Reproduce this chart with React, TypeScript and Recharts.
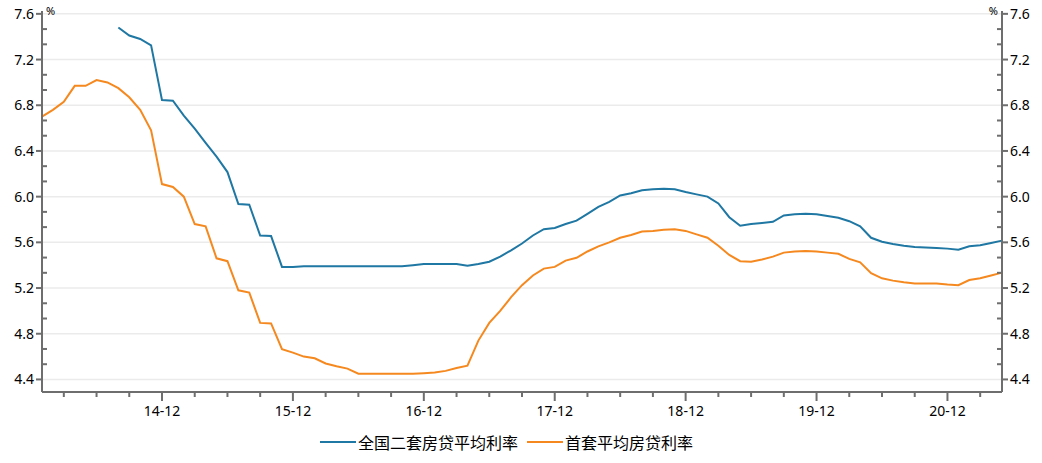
import React from "react";
import { LineChart, Line, XAxis, YAxis, CartesianGrid, Legend } from "recharts";

// months 2014-01 .. 2021-05
const months: string[] = [];
for (let y = 14; y <= 21; y++) {
  for (let m = 1; m <= 12; m++) {
    if (y === 21 && m > 5) break;
    months.push(`${y}-${String(m).padStart(2, "0")}`);
  }
}

// 全国二套房贷平均利率 (starts 2014-08)
const secondHome: (number | null)[] = [
  null, null, null, null, null, null, null, 7.48, 7.41, 7.38, 7.325, 6.845,
  6.84, 6.71, 6.595, 6.47, 6.35, 6.215, 5.935, 5.93, 5.66, 5.655, 5.385, 5.385,
  5.39, 5.39, 5.39, 5.39, 5.39, 5.39, 5.39, 5.39, 5.39, 5.39, 5.4, 5.41,
  5.41, 5.41, 5.41, 5.395, 5.41, 5.43, 5.475, 5.53, 5.59, 5.66, 5.715, 5.725,
  5.76, 5.79, 5.85, 5.91, 5.955, 6.01, 6.03, 6.055, 6.065, 6.07, 6.065, 6.04,
  6.02, 6.0, 5.94, 5.82, 5.745, 5.76, 5.77, 5.78, 5.835, 5.845, 5.85, 5.845,
  5.83, 5.815, 5.785, 5.74, 5.64, 5.605, 5.585, 5.57, 5.56, 5.555, 5.55, 5.545,
  5.535, 5.565, 5.575, 5.595, 5.615,
];

// 首套平均房贷利率
const firstHome: number[] = [
  6.7, 6.76, 6.83, 6.97, 6.97, 7.02, 7.0, 6.95, 6.87, 6.76, 6.58, 6.11,
  6.085, 6.0, 5.76, 5.74, 5.46, 5.435, 5.18, 5.16, 4.895, 4.89, 4.665, 4.635,
  4.6, 4.585, 4.54, 4.515, 4.495, 4.45, 4.45, 4.45, 4.45, 4.45, 4.45, 4.455,
  4.46, 4.475, 4.5, 4.52, 4.74, 4.895, 5.0, 5.12, 5.225, 5.31, 5.37, 5.385,
  5.44, 5.465, 5.52, 5.565, 5.6, 5.64, 5.665, 5.695, 5.7, 5.71, 5.715, 5.7,
  5.67, 5.64, 5.57, 5.49, 5.435, 5.43, 5.45, 5.475, 5.51, 5.52, 5.525, 5.52,
  5.51, 5.5, 5.455, 5.425, 5.33, 5.285, 5.265, 5.25, 5.24, 5.24, 5.24, 5.23,
  5.225, 5.27, 5.285, 5.31, 5.335,
];

const majorY = [4.4, 4.8, 5.2, 5.6, 6.0, 6.4, 6.8, 7.2, 7.6];
const seriesNames = ["全国二套房贷平均利率", "首套平均房贷利率"];
const colors = ["#1f77a3", "#f5891f"];

const data = months.map((m, i) => ({
  month: m,
  second: secondHome[i],
  first: firstHome[i],
}));

// major ticks every 0.4, two minor ticks in between
const yTicks: number[] = [];
majorY.forEach((v, i) => {
  yTicks.push(v);
  if (i < majorY.length - 1) {
    yTicks.push(+(v + 0.4 / 3).toFixed(4), +(v + 0.8 / 3).toFixed(4));
  }
});
const xTicks = months.filter((m) => ["03", "06", "09", "12"].includes(m.slice(3)));

const axisColor = "#6e6e6e";
const font = "'Noto Sans', 'Noto Sans CJK SC', sans-serif";

const isMajor = (v: number) => majorY.some((m) => Math.abs(m - v) < 1e-6);

const LeftTick = (props: any) => {
  const { x, y, payload } = props;
  const v = payload.value;
  if (isMajor(v)) {
    return (
      <g>
        <line x1={x - 6} x2={x} y1={y} y2={y} stroke={axisColor} strokeWidth={2} />
        <text x={x - 8} y={y + 5} textAnchor="end" fontSize={14} fontFamily={font} fill="#000">
          {v.toFixed(1)}
        </text>
      </g>
    );
  }
  return <line x1={x} x2={x + 5} y1={y} y2={y} stroke={axisColor} strokeWidth={2} />;
};

const RightTick = (props: any) => {
  const { x, y, payload } = props;
  const v = payload.value;
  if (isMajor(v)) {
    return (
      <g>
        <line x1={x} x2={x + 6} y1={y} y2={y} stroke={axisColor} strokeWidth={2} />
        <text x={x + 8} y={y + 5} textAnchor="start" fontSize={14} fontFamily={font} fill="#000">
          {v.toFixed(1)}
        </text>
      </g>
    );
  }
  return <line x1={x - 5} x2={x} y1={y} y2={y} stroke={axisColor} strokeWidth={2} />;
};

const MonthTick = (props: any) => {
  const { x, y, payload } = props;
  const major = payload.value.endsWith("-12");
  return (
    <g>
      <line x1={x} x2={x} y1={y} y2={y + (major ? 9 : 5)} stroke={axisColor} strokeWidth={2} />
      {major && (
        <text x={x} y={y + 24} textAnchor="middle" fontSize={14} fontFamily={font} fill="#000">
          {payload.value}
        </text>
      )}
    </g>
  );
};

const pctLabel = (side: "left" | "right") => (props: any) => {
  const vb = props.viewBox || {};
  const x = side === "left" ? vb.x + vb.width + 4 : vb.x - 4;
  return (
    <text
      x={x}
      y={vb.y + 4}
      textAnchor={side === "left" ? "start" : "end"}
      fontSize={11}
      fontFamily={font}
      fill="#000"
    >
      %
    </text>
  );
};

const LegendContent = () => (
  <div style={{ position: "relative", height: 41, fontFamily: font }}>
    {seriesNames.map((name, i) => (
      <div
        key={name}
        style={{
          position: "absolute",
          left: i === 0 ? 320 : 527,
          top: 9,
          display: "flex",
          alignItems: "center",
          fontSize: 16,
          color: "#000",
          whiteSpace: "nowrap",
        }}
      >
        <span style={{ display: "inline-block", width: 36, height: 2, background: colors[i], marginRight: 2 }} />
        <span style={{ fontFamily: "'Noto Sans CJK SC', sans-serif", lineHeight: "22px" }}>{name}</span>
      </div>
    ))}
  </div>
);

export default function App() {
  return (
    <div style={{ position: "absolute", left: 0, top: 0, width: 1042, height: 463, background: "#fff" }}>
      <LineChart width={1042} height={463} data={data} margin={{ top: 11, right: 0, bottom: 0, left: 0 }}>
        <CartesianGrid
          yAxisId="left"
          vertical={false}
          horizontalValues={majorY}
          stroke="#ebebeb"
          strokeWidth={1.5}
        />
        <XAxis
          dataKey="month"
          ticks={xTicks}
          interval={0}
          height={30}
          tickSize={0}
          tickMargin={0}
          tickLine={false}
          tick={<MonthTick />}
          axisLine={{ stroke: axisColor, strokeWidth: 2 }}
        />
        <YAxis
          yAxisId="left"
          width={42}
          type="number"
          domain={[4.29, 7.625]}
          ticks={yTicks}
          interval={0}
          tickSize={0}
          tickMargin={0}
          tickLine={false}
          tick={<LeftTick />}
          axisLine={{ stroke: axisColor, strokeWidth: 2 }}
          allowDataOverflow
          label={{ content: pctLabel("left") }}
        />
        <YAxis
          yAxisId="right"
          orientation="right"
          width={40}
          type="number"
          domain={[4.29, 7.625]}
          ticks={yTicks}
          interval={0}
          tickSize={0}
          tickMargin={0}
          tickLine={false}
          tick={<RightTick />}
          axisLine={{ stroke: axisColor, strokeWidth: 2 }}
          allowDataOverflow
          label={{ content: pctLabel("right") }}
        />
        <Line
          yAxisId="left"
          type="linear"
          dataKey="second"
          name={seriesNames[0]}
          stroke={colors[0]}
          strokeWidth={2}
          dot={false}
          activeDot={false}
          connectNulls={false}
          isAnimationActive={false}
        />
        <Line
          yAxisId="left"
          type="linear"
          dataKey="first"
          name={seriesNames[1]}
          stroke={colors[1]}
          strokeWidth={2}
          dot={false}
          activeDot={false}
          isAnimationActive={false}
        />
        <Legend verticalAlign="bottom" content={<LegendContent />} />
      </LineChart>
    </div>
  );
}
